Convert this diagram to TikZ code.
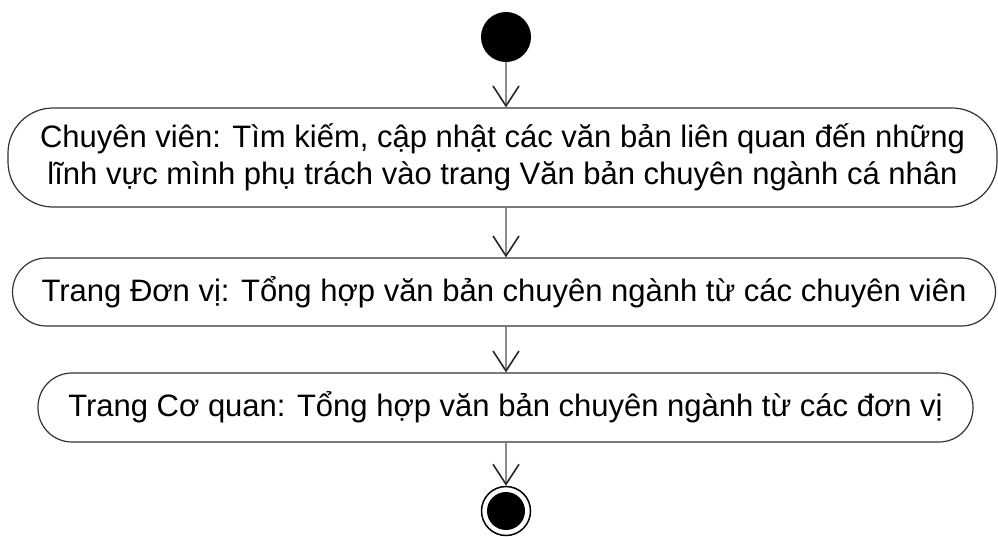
\documentclass[tikz,border=0pt]{standalone}
\usepackage{fontspec}
\setmainfont{Liberation Sans}
\usetikzlibrary{arrows.meta, positioning}

\begin{document}
\begin{tikzpicture}[
  x=1pt, y=-1pt,
  actbox/.style={draw=black!80, line width=1.2pt, fill=white, align=center, inner sep=0pt, font=\fontsize{31}{37}\selectfont},
  flow/.style={draw=black!45, line width=2pt, -{Straight Barb[length=20pt, width=26pt, line width=1.6pt, color=black!85]}}
]
  \useasboundingbox (0,0) rectangle (998,536);

  \node[circle, fill=black, minimum size=50pt, inner sep=0pt] (start) at (506,37) {};

  \node[actbox, minimum width=989pt, minimum height=99pt, rounded corners=45pt] (search) at (502.5,157.5) {%
    Chuyên viên: Tìm kiếm, cập nhật các văn bản liên quan đến những\\
    lĩnh vực mình phụ trách vào trang Văn bản chuyên ngành cá nhân%
  };

  \node[actbox, minimum width=983pt, minimum height=68pt, rounded corners=34pt] (unit) at (504,292) {%
    Trang Đơn vị: Tổng hợp văn bản chuyên ngành từ các chuyên viên%
  };

  \node[actbox, minimum width=935pt, minimum height=69pt, rounded corners=34pt] (agency) at (505.5,407.5) {%
    Trang Cơ quan: Tổng hợp văn bản chuyên ngành từ các đơn vị%
  };

  \node[circle, draw=black, line width=1.5pt, minimum size=49pt, inner sep=0pt] (finish) at (506,511) {};
  \fill[black] (finish.center) circle[radius=19];

  \draw[flow] (start.south) -- (start.south |- search.north);
  \draw[flow] (start.south |- search.south) -- (start.south |- unit.north);
  \draw[flow] (start.south |- unit.south) -- (start.south |- agency.north);
  \draw[flow] (start.south |- agency.south) -- (finish.north);
\end{tikzpicture}
\end{document}
